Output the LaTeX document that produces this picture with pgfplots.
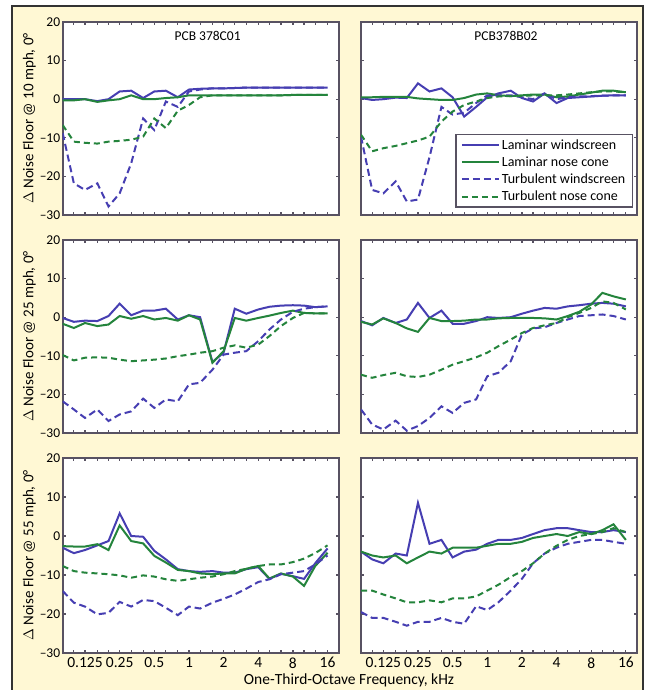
\documentclass[border=0pt]{standalone}
\usepackage{pgfplots}
\pgfplotsset{compat=1.18}
\usepackage{pgfplotstable}
\usepackage{fontspec}
\setmainfont{Carlito}
\definecolor{cream}{RGB}{255,248,212}
\definecolor{lwblue}{RGB}{70,62,178}
\definecolor{lngreen}{RGB}{36,132,60}
\definecolor{axgray}{RGB}{88,82,98}

% columns: f = band centre frequency (kHz), lw/ln/tw/tn = Delta noise floor (dB)
\pgfplotstableread{
f lw ln tw tn
0.08 0 -0.3 -8.8 -6.7
0.1 0 -0.3 -21.8 -11
0.125 0 0 -23.5 -11.3
0.16 -0.5 -0.7 -21.8 -11.5
0.2 0 -0.3 -27.8 -11
0.25 2 0 -24.4 -10.8
0.315 2.2 1 -16.6 -10.5
0.4 0.3 0 -5 -9.7
0.5 2 0 -8 -5
0.63 2.2 0.3 -0.6 -7.5
0.8 0.5 0.5 -2 -3
1 2.5 1 2 -1.5
1.25 2.7 1 2.5 0.5
1.6 2.8 1 2.8 1
2 2.8 1 2.8 1
2.5 2.9 1 2.9 1
3.15 3 1 3 1
4 3 1 3 1
5 3 1 3 1
6.3 3 1 3 1
8 3 1.1 3 1.1
10 3 1.1 3 1.1
12.5 3 1.1 3 1.1
16 3 1.1 3 1.1
}\tAA
\pgfplotstableread{
f lw ln tw tn
0.08 0.3 0.5 -9.7 -9.2
0.1 -0.2 0.5 -23.5 -13.5
0.125 0 0.6 -24.4 -12.7
0.16 0.4 0.6 -21.3 -12.1
0.2 0.3 0.6 -26.5 -11.4
0.25 4.1 0.2 -26 -10.7
0.315 2 0 -15 -9.7
0.4 2.8 -0.2 -2 -5.8
0.5 0.5 -0.2 -4 -3.2
0.63 -4.5 0.3 -3.5 -1.5
0.8 -2 1.2 -1 -0.6
1 0.5 1.5 1 0.3
1.25 1.5 1 1 0.7
1.6 2.2 0.8 1 0.8
2 0.3 1 0.5 0.8
2.5 -0.6 1.2 0 1
3.15 1.5 1.2 1.5 1
4 -1 0.5 0 1
5 0.3 0.7 0.5 1.2
6.3 0.5 1.2 0.7 1.5
8 0.7 1.7 0.8 1.8
10 0.9 2.2 0.9 2
12.5 1 2.2 1 2
16 1 1.8 1 1.8
}\tAB
\pgfplotstableread{
f lw ln tw tn
0.08 -0.2 -1.7 -21.8 -9.8
0.1 -1.2 -2.8 -23.9 -11.2
0.125 -0.9 -1.5 -26.1 -10.5
0.16 -1 -2.3 -23.9 -10.4
0.2 0.3 -1.9 -26.9 -10.5
0.25 3.5 0.3 -25.2 -11
0.315 0.5 -0.4 -24.4 -11.4
0.4 1.7 0.3 -21.1 -11.2
0.5 1.7 -0.6 -23.5 -11
0.63 2.2 -0.2 -21.3 -10.7
0.8 -0.6 -0.9 -21.8 -10.1
1 0.5 0.5 -17.4 -9.7
1.25 0 -0.6 -17 -9.2
1.6 -11.6 -11.8 -13.6 -8.8
2 -9.2 -8.8 -9.7 -7.9
2.5 2.2 -0.2 -9.2 -7.3
3.15 0.9 -0.9 -8.8 -7.9
4 2 -0.2 -6.2 -7.1
5 2.7 0.4 -3.2 -4.9
6.3 3 1.1 -0.6 -2.3
8 3.1 1.7 1.4 -0.2
10 3 1.1 2.2 1.1
12.5 2.6 1 2.6 1
16 2.8 1 2.8 1
}\tBA
\pgfplotstableread{
f lw ln tw tn
0.08 -1 -1.2 -23.9 -14.9
0.1 -2.1 -1.9 -27.8 -15.7
0.125 -0.2 -0.3 -29.1 -15
0.16 -1.5 -1.5 -26.8 -14.4
0.2 -0.6 -2.9 -29.4 -15.3
0.25 3.7 -3.8 -28.2 -15.5
0.315 -0.2 -0.2 -26.1 -14.9
0.4 1.7 -1 -23.1 -13.6
0.5 -1.7 -1 -24.8 -12.3
0.63 -1.7 -0.9 -22.2 -11.4
0.8 -1 -0.6 -21.3 -10.4
1 0 -0.6 -15.3 -9.2
1.25 -0.2 -0.3 -14.4 -7.5
1.6 0 -0.2 -11.4 -5.8
2 0.9 -0.2 -4.5 -4.1
2.5 1.7 -0.2 -2.9 -2.8
3.15 2.4 -0.3 -2.6 -2.1
4 2.2 -0.6 -1.5 -1.5
5 2.8 0.3 -0.6 0
6.3 3.1 1.4 0.3 1.1
8 3.5 3.3 0.5 2.4
10 3.7 6.3 0.7 4.1
12.5 3.5 5.4 0.3 3.7
16 2.8 4.6 -0.6 2
}\tBB
\pgfplotstableread{
f lw ln tw tn
0.08 -3 -2.6 -14.1 -7.7
0.1 -4.4 -2.7 -17.1 -9
0.125 -3.6 -2.7 -18.1 -9.4
0.16 -2.4 -2.1 -20.1 -9.6
0.2 -1.3 -3.6 -19.7 -9.8
0.25 5.8 2.7 -16.9 -10.1
0.315 0 -1.3 -18.1 -10.7
0.4 -0.2 -1.9 -16.4 -10.1
0.5 -3.8 -5.1 -16.7 -10.4
0.63 -6 -6.8 -18.4 -11.1
0.8 -8.5 -8.7 -20.3 -11.5
1 -9 -9 -18.1 -11.1
1.25 -9.2 -9.6 -18.6 -10.7
1.6 -9 -9.8 -17.1 -10.4
2 -9.4 -9.6 -16.1 -9.8
2.5 -9.4 -9.6 -15 -9
3.15 -8.5 -8.4 -13.5 -8.4
4 -8 -7.7 -11.8 -7.7
5 -11 -10.9 -11.1 -7.3
6.3 -9.7 -9.6 -9.8 -7.3
8 -10.3 -10.4 -9.4 -6.7
10 -11 -12.8 -9 -5.8
12.5 -7 -7.7 -7.3 -4.4
16 -3.2 -4.3 -5 -2.4
}\tCA
\pgfplotstableread{
f lw ln tw tn
0.08 -4 -4 -19.5 -14
0.1 -6 -5 -21 -14
0.125 -7 -5.5 -21 -15
0.16 -4.5 -5 -22 -16
0.2 -5 -7 -23 -17
0.25 8.5 -5.5 -22 -17
0.315 -2 -4 -22 -16.5
0.4 -1 -4.5 -21 -17
0.5 -5.5 -3 -22 -16
0.63 -4 -3 -22.5 -16
0.8 -3.5 -3 -18 -15.5
1 -2 -2.5 -19 -14
1.25 -1 -2 -17 -12.5
1.6 -1 -2 -14 -10.5
2 -0.5 -1.5 -11 -9
2.5 0.5 -0.5 -7 -7
3.15 1.5 0 -4.5 -4.5
4 2 0.5 -3 -2.5
5 2 0 -2 -1
6.3 1.5 1 -1.5 0
8 1 0.5 -1 0.5
10 1 1.5 -1 1
12.5 1.5 3 -1.5 2
16 1 -1 -2 1
}\tCB

\tikzset{
  sLW/.style={lwblue, line width=2pt, solid},
  sLN/.style={lngreen, line width=2pt, solid},
  sTW/.style={lwblue, line width=2pt, dash pattern=on 7pt off 4pt},
  sTN/.style={lngreen, line width=2pt, dash pattern=on 6pt off 4pt},
}
\pgfplotsset{
  myaxis/.style={
    scale only axis, width=276pt, height=193pt,
    xmin=0.08, xmax=20,
    ymin=-30, ymax=20, ytick={-30,-20,-10,0,10,20},
    yticklabels={--30,--20,--10,0,10,20},
    xtick={0.08,0.1,0.125,0.16,0.2,0.25,0.315,0.4,0.5,0.63,0.8,1,1.25,1.6,2,2.5,3.15,4,5,6.3,8,10,12.5,16},
    xticklabels={},
    minor tick num=0,
    tick align=inside, major tick length=3pt,
    axis line style={axgray, line width=1.8pt},
    every tick/.style={axgray, line width=1.2pt},
    axis background/.style={fill=white},
    yticklabel style={font=\fontsize{13.5}{14}\selectfont, xshift=1pt},
    xticklabel style={font=\fontsize{15.5}{16}\selectfont, yshift=-1pt},
    ylabel style={font=\fontsize{15}{16}\selectfont, at={(axis description cs:-0.085,0.5)}, anchor=south},
    title style={font=\fontsize{13.5}{14}\selectfont, at={(axis description cs:0.525,0.94)}, anchor=north},
  },
  myright/.style={yticklabels={}},
  mybottom/.style={xticklabels={,,0.125,,,0.25,,,0.5,,,1,,,2,,,4,,,8,,,16}},
}

\begin{document}
\begin{tikzpicture}
\useasboundingbox (0pt,0pt) rectangle (651pt,690pt);
\fill[white] (0pt,0pt) rectangle (651pt,690pt);
\fill[cream] (12pt,0pt) rectangle (643pt,684pt);
\draw[black!80, line width=1.3pt] (12pt,-2pt) -- (12pt,684pt) -- (643pt,684pt) -- (643pt,-2pt);

% row 1
\begin{semilogxaxis}[myaxis, at={(62.7pt,668pt)}, anchor=north west, title={PCB 378C01},
  ylabel={$\Delta$ Noise Floor @ 10 mph, 0°}]
\addplot[sLW] table[x=f,y=lw]{\tAA};
\addplot[sLN] table[x=f,y=ln]{\tAA};
\addplot[sTW] table[x=f,y=tw]{\tAA};
\addplot[sTN] table[x=f,y=tn]{\tAA};
\end{semilogxaxis}
\begin{semilogxaxis}[myaxis, myright, at={(361pt,668pt)}, anchor=north west, title={PCB378B02},
  legend cell align=left,
  legend style={at={(0.986,0.036)}, anchor=south east, draw=axgray, line width=1.6pt,
    font=\fontsize{14}{16.5}\selectfont, fill=white, inner xsep=5pt, inner ysep=3pt, row sep=2pt},
  legend image code/.code={\draw[#1] (0cm,0cm) -- (1.3cm,0cm);}]
\addplot[sLW] table[x=f,y=lw]{\tAB};
\addlegendentry{Laminar windscreen}
\addplot[sLN] table[x=f,y=ln]{\tAB};
\addlegendentry{Laminar nose cone}
\addplot[sTW] table[x=f,y=tw]{\tAB};
\addlegendentry{Turbulent windscreen}
\addplot[sTN] table[x=f,y=tn]{\tAB};
\addlegendentry{Turbulent nose cone}
\end{semilogxaxis}

% row 2
\begin{semilogxaxis}[myaxis, at={(62.7pt,450pt)}, anchor=north west,
  ylabel={$\Delta$ Noise Floor @ 25 mph, 0°}]
\addplot[sLW] table[x=f,y=lw]{\tBA};
\addplot[sLN] table[x=f,y=ln]{\tBA};
\addplot[sTW] table[x=f,y=tw]{\tBA};
\addplot[sTN] table[x=f,y=tn]{\tBA};
\end{semilogxaxis}
\begin{semilogxaxis}[myaxis, myright, at={(361pt,450pt)}, anchor=north west]
\addplot[sLW] table[x=f,y=lw]{\tBB};
\addplot[sLN] table[x=f,y=ln]{\tBB};
\addplot[sTW] table[x=f,y=tw]{\tBB};
\addplot[sTN] table[x=f,y=tn]{\tBB};
\end{semilogxaxis}

% row 3
\begin{semilogxaxis}[myaxis, mybottom, height=195pt, at={(62.7pt,232pt)}, anchor=north west,
  ylabel={$\Delta$ Noise Floor @ 55 mph, 0°}]
\addplot[sLW] table[x=f,y=lw]{\tCA};
\addplot[sLN] table[x=f,y=ln]{\tCA};
\addplot[sTW] table[x=f,y=tw]{\tCA};
\addplot[sTN] table[x=f,y=tn]{\tCA};
\end{semilogxaxis}
\begin{semilogxaxis}[myaxis, myright, mybottom, height=195pt, at={(361pt,232pt)}, anchor=north west]
\addplot[sLW] table[x=f,y=lw]{\tCB};
\addplot[sLN] table[x=f,y=ln]{\tCB};
\addplot[sTW] table[x=f,y=tw]{\tCB};
\addplot[sTN] table[x=f,y=tn]{\tCB};
\end{semilogxaxis}

\node[font=\fontsize{15.5}{16}\selectfont] at (349pt,9.5pt) {One-Third-Octave Frequency, kHz};
\end{tikzpicture}
\end{document}
